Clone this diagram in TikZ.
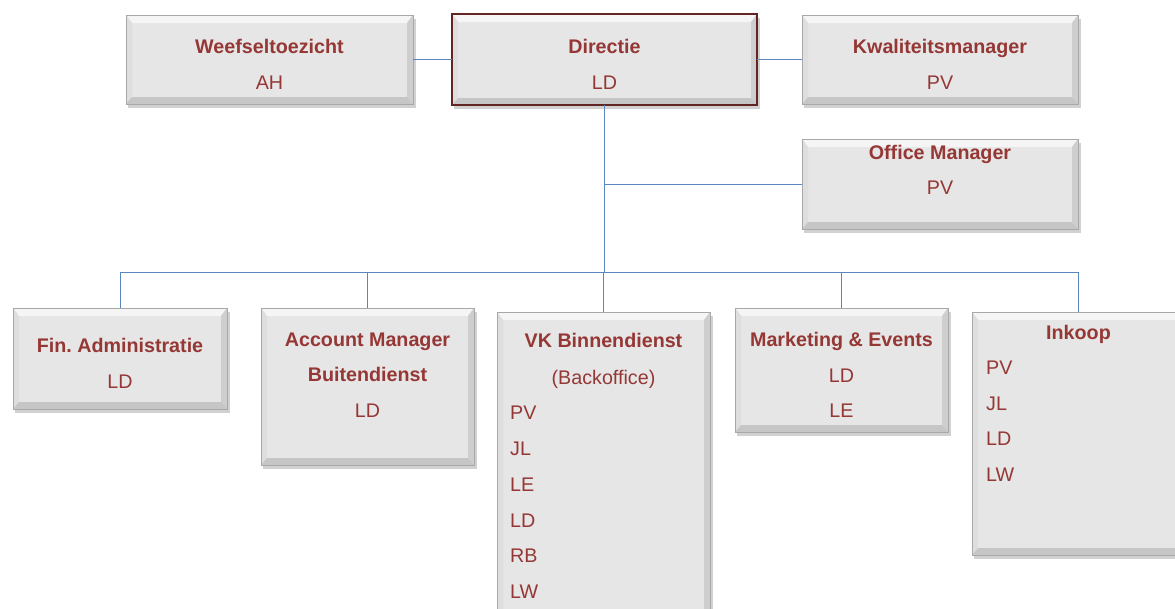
\documentclass[tikz,border=0pt]{standalone}
\usepackage{fontspec}
\setmainfont{Liberation Sans}
\usetikzlibrary{calc}
\frenchspacing
\definecolor{txtred}{HTML}{953735}
\definecolor{dirborder}{HTML}{632523}
\definecolor{linkblue}{HTML}{5B87C0}
\definecolor{face}{HTML}{E6E6E6}
\definecolor{bevtop}{HTML}{F5F5F5}
\definecolor{bevleft}{HTML}{DEDEDE}
\definecolor{bevright}{HTML}{CECECE}
\definecolor{bevbot}{HTML}{C6C6C6}
\definecolor{edge}{HTML}{A8A8A8}
\tikzset{
  boxbase/.style={rectangle,inner sep=0pt,outer sep=0pt,fill=face},
  lbl/.style={inner sep=0pt,anchor=base,text=txtred,font=\fontsize{19.7}{24}\selectfont},
  ttl/.style={lbl,font=\fontsize{19.7}{24}\selectfont\bfseries},
  llbl/.style={lbl,anchor=base west},
  link/.style={draw=linkblue,line width=1pt},
  shadowc/.style={fill=black,opacity=0.18},
}
% #1 name, #2 x1, #3 y1, #4 x2, #5 y2, #6 border style
\newcommand\bevbox[6]{%
  \fill[shadowc] (#2+2,#3+4) rectangle (#4+3,#5+4);
  \node[boxbase,minimum width={(#4-#2)*1pt},minimum height={(#5-#3)*1pt}] (#1) at ({(#2+#4)/2},{(#3+#5)/2}) {};
  \fill[bevtop] (#2,#3) -- (#4,#3) -- (#4-6,#3+8) -- (#2+6,#3+8) -- cycle;
  \fill[bevleft] (#2,#3) -- (#2+6,#3+8) -- (#2+6,#5-7) -- (#2,#5) -- cycle;
  \fill[bevright] (#4,#3) -- (#4-6,#3+8) -- (#4-6,#5-7) -- (#4,#5) -- cycle;
  \fill[bevbot] (#2,#5) -- (#2+6,#5-7) -- (#4-6,#5-7) -- (#4,#5) -- cycle;
  \draw[#6] (#2,#3) rectangle (#4,#5);
}
\begin{document}
\begin{tikzpicture}[x=1pt,y=-1pt]
\useasboundingbox (0,0) rectangle (1175,608);
\clip (0,0) rectangle (1175,608);
\fill[white] (0,0) rectangle (1175,608);

% connector junction points
\coordinate (bar) at (604.5,272);

% boxes
\bevbox{weef}{126}{15}{413}{104}{draw=edge,line width=0.8pt}
\bevbox{kwal}{802}{15}{1078}{104}{draw=edge,line width=0.8pt}
\bevbox{om}{802}{139}{1078}{229}{draw=edge,line width=0.8pt}
\bevbox{fin}{13}{308}{227}{409}{draw=edge,line width=0.8pt}
\bevbox{acc}{261}{308}{474}{465}{draw=edge,line width=0.8pt}
\bevbox{vk}{497}{312}{710}{630}{draw=edge,line width=0.8pt}
\bevbox{mark}{735}{308}{948}{432}{draw=edge,line width=0.8pt}
\bevbox{ink}{972}{312}{1185}{555}{draw=edge,line width=0.8pt}
\bevbox{dir}{452}{14}{757}{105}{draw=dirborder,line width=2.4pt}

% connectors
\draw[link] (weef.east) -- (dir.west);
\draw[link] (dir.east) -- (kwal.west);
\draw[link] (dir.south) -- (bar);
\draw[link] (dir.south |- om.west) -- (om.west);
\draw[link] (fin.north |- bar) -- (ink.north |- bar);
\draw[link] (fin.north |- bar) -- (fin.north);
\draw[link] (acc.north |- bar) -- (acc.north);
\draw[link] (vk.north |- bar) -- (vk.north);
\draw[link] (mark.north |- bar) -- (mark.north);
\draw[link] (ink.north |- bar) -- (ink.north);

% texts
\node[ttl] (weef-t) at (269.5,53) {Weefseltoezicht};
\node[lbl] (weef-1) at (269.5,89) {AH};
\node[ttl] (dir-t) at (604.5,53) {Directie};
\node[lbl] (dir-1) at (604.5,89) {LD};
\node[ttl] (kwal-t) at (940,53) {Kwaliteitsmanager};
\node[lbl] (kwal-1) at (940,89) {PV};
\node[ttl] (om-t) at (940,159) {Office Manager};
\node[lbl] (om-1) at (940,194) {PV};

\node[ttl] (fin-t) at (120,352) {Fin. Administratie};
\node[lbl] (fin-1) at (120,388) {LD};

\node[ttl] (acc-t) at (367.5,346) {Account Manager};
\node[ttl] (acc-t2) at (367.5,381) {Buitendienst};
\node[lbl] (acc-1) at (367.5,417) {LD};

\node[ttl] (vk-t) at (603.5,347) {VK Binnendienst};
\node[lbl] (vk-t2) at (603.5,384) {(Backoffice)};
\node[llbl] (vk-1) at (510,419) {PV};
\node[llbl] (vk-2) at (510,455) {JL};
\node[llbl] (vk-3) at (510,491) {LE};
\node[llbl] (vk-4) at (510,527) {LD};
\node[llbl] (vk-5) at (510,562.5) {RB};
\node[llbl] (vk-6) at (510,598) {LW};

\node[ttl] (mark-t) at (841.5,346) {Marketing \& Events};
\node[lbl] (mark-1) at (841.5,382) {LD};
\node[lbl] (mark-2) at (841.5,417) {LE};

\node[ttl] (ink-t) at (1078.5,339) {Inkoop};
\node[llbl] (ink-1) at (986,374) {PV};
\node[llbl] (ink-2) at (986,410) {JL};
\node[llbl] (ink-3) at (986,445) {LD};
\node[llbl] (ink-4) at (986,481) {LW};
\end{tikzpicture}
\end{document}
